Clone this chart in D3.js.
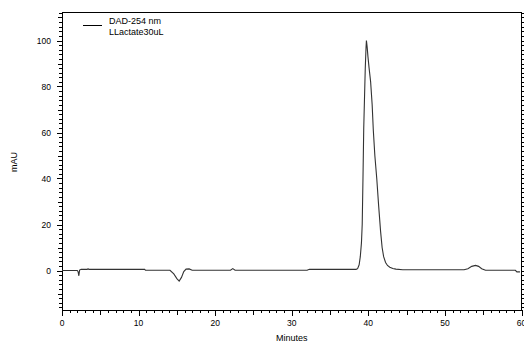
<!DOCTYPE html>
<html><head><meta charset="utf-8">
<script src="https://cdn.jsdelivr.net/npm/d3@7"></script>
<style>
html,body{margin:0;padding:0;background:#fff;}
svg{display:block;font-family:"Liberation Sans",Arial,sans-serif;}
</style></head>
<body>
<svg id="c" width="524" height="343"></svg>
<script>
// Data
const legendLabels = ["DAD-254 nm", "LLactate30uL"];
const xTickLabels = [0, 10, 20, 30, 40, 50, 60];
const yTickLabels = [0, 20, 40, 60, 80, 100];
const xTitle = "Minutes";
const yTitle = "mAU";
const times = [0, 2.0, 2.1, 2.2, 2.3, 2.5, 3.3, 3.4, 3.5, 10.8, 10.9, 14.1, 14.6, 15.0, 15.3, 15.6, 15.9, 16.2, 16.6, 17.0,
  22.0, 22.3, 22.6, 32.0, 32.3, 38.4, 38.6, 38.8, 38.95, 39.1, 39.2, 39.3, 39.4, 39.5, 39.6, 39.7, 39.75, 39.85, 39.95,
  40.1, 40.3, 40.5, 40.65, 40.85, 41.1, 41.35, 41.6, 41.8, 42.0, 42.25, 42.5, 42.8, 43.2, 43.6, 44.5, 52.5, 53.0, 53.5,
  54.0, 54.4, 54.8, 55.3, 59.2, 59.4, 59.8];
const values = [0, 0, -0.5, -2.3, 0.2, 0.5, 0.5, 0.8, 0.5, 0.5, 0.1, 0.1, -1.5, -3.5, -4.6, -3, -0.5, 0.6, 0.7, 0.1,
  0.1, 0.8, 0.1, 0.1, 0.5, 0.5, 0.8, 2.5, 6, 12, 20, 40, 62, 75, 88, 97, 100, 97, 93,
  88, 82, 72, 61, 50, 40, 28, 17, 10, 6, 3.5, 2.2, 1.4, 0.9, 0.6, 0.3, 0.3, 0.8, 1.8,
  2.2, 1.8, 0.8, 0.1, 0.1, -0.6, -0.6];

const svg = d3.select("#c");
const L = 62, R = 521.5, T = 12, B = 310;
const x = d3.scaleLinear().domain([0, 60]).range([L, R]);
const y = d3.scaleLinear().domain([0, 100]).range([270.5, 40.5]);

// frame
svg.append("rect").attr("x", L).attr("y", T).attr("width", R - L).attr("height", B - T)
  .attr("fill", "none").attr("stroke", "#000").attr("stroke-width", 1).attr("shape-rendering", "crispEdges");

// y ticks
const yMin = y.invert(B), yMax = y.invert(T);
for (let v = Math.ceil(yMin / 2) * 2; v <= yMax; v += 2) {
  const len = v % 20 === 0 ? 5 : (v % 10 === 0 ? 4 : 3);
  const yy = Math.round(y(v)) + 0.5;
  svg.append("line").attr("x1", L - len).attr("x2", L).attr("y1", yy).attr("y2", yy).attr("stroke", "#000").attr("shape-rendering", "crispEdges");
  svg.append("line").attr("x1", R).attr("x2", R + len).attr("y1", yy).attr("y2", yy).attr("stroke", "#000").attr("shape-rendering", "crispEdges");
}
yTickLabels.forEach(v => {
  svg.append("text").attr("x", 51).attr("y", y(v) + 3).attr("text-anchor", "end")
    .attr("font-size", 8.5).attr("fill", "#000").text(v);
});
// x ticks
for (let t = 0; t <= 60; t += 1) {
  const len = t % 10 === 0 ? 6 : (t % 5 === 0 ? 5 : 3);
  const xx = Math.round(x(t)) + 0.5;
  svg.append("line").attr("x1", xx).attr("x2", xx).attr("y1", B).attr("y2", B + len).attr("stroke", "#000").attr("shape-rendering", "crispEdges");
}
xTickLabels.forEach(v => {
  svg.append("text").attr("x", x(v)).attr("y", 325.5).attr("text-anchor", "middle")
    .attr("font-size", 8.5).attr("fill", "#000").text(v);
});
// titles
svg.append("text").attr("x", x(30)).attr("y", 341).attr("text-anchor", "middle").attr("font-size", 9).text(xTitle);
svg.append("text").attr("transform", "translate(17,162) rotate(-90)").attr("text-anchor", "middle").attr("font-size", 9).text(yTitle);

// legend
svg.append("line").attr("x1", 83).attr("x2", 102).attr("y1", 25.5).attr("y2", 25.5).attr("stroke", "#000");
legendLabels.forEach((s, i) => {
  svg.append("text").attr("x", 109).attr("y", 23.5 + i * 11.5).attr("font-size", 9).text(s);
});

// trace
const pts = times.map((t, i) => [t, values[i]]);
const line = d3.line().x(d => x(d[0])).y(d => y(d[1]));
svg.append("path").attr("d", line(pts)).attr("fill", "none").attr("stroke", "#333").attr("stroke-width", 1.1);
</script>
</body></html>
